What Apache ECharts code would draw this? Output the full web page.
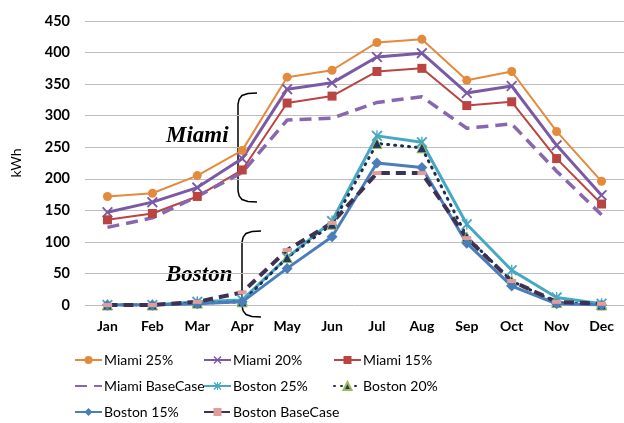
<!DOCTYPE html>
<html>
<head>
<meta charset="utf-8">
<script src="https://cdn.jsdelivr.net/npm/echarts@6/dist/echarts.min.js"></script>
<style>
html, body { margin: 0; padding: 0; background: #fff; }
#main { width: 624px; height: 423px; }
</style>
</head>
<body>
<div id="main"></div>
<script>
var months = ["Jan","Feb","Mar","Apr","May","Jun","Jul","Aug","Sep","Oct","Nov","Dec"];

var miami25 = [172, 177, 205, 245, 361, 372, 416, 421, 356, 370, 275, 196];
var miami20 = [147, 163, 186, 232, 342, 352, 393, 399, 336, 347, 253, 174];
var miami15 = [135, 145, 172, 214, 320, 331, 370, 375, 316, 322, 232, 160];
var miamiBase = [123, 138, 172, 210, 293, 296, 321, 330, 280, 287, 212, 143];
var boston25 = [0, 0, 5, 8, 75, 133, 268, 258, 128, 55, 12, 2];
var boston20 = [0, 0, 3, 5, 75, 128, 256, 249, 108, 38, 4, 0];
var boston15 = [0, 0, 2, 5, 58, 108, 225, 218, 98, 30, 2, 0];
var bostonBase = [0, 0, 5, 20, 87, 130, 209, 209, 106, 38, 5, 2];

var chart = echarts.init(document.getElementById("main"));

// X and asterisk markers
var xMark = 'path://M0,1.2 L1.2,0 L5,3.8 L8.8,0 L10,1.2 L6.2,5 L10,8.8 L8.8,10 L5,6.2 L1.2,10 L0,8.8 L3.8,5 Z';
var starMark = 'path://M0,1.2 L1.2,0 L4.4,3.2 L4.4,0 L5.6,0 L5.6,3.2 L8.8,0 L10,1.2 L6.2,5 L10,8.8 L8.8,10 L5.6,6.8 L5.6,10 L4.4,10 L4.4,6.8 L1.2,10 L0,8.8 L3.8,5 Z';

var legendPos = [
    ['Miami 25%', 74, 353], ['Miami 20%', 203, 353], ['Miami 15%', 333, 353],
    ['Miami BaseCase', 74, 379], ['Boston 25%', 203, 379], ['Boston 20%', 333, 379],
    ['Boston 15%', 74, 405], ['Boston BaseCase', 203, 405]
];
var legends = legendPos.map(function (p) {
    var item = { name: p[0] };
    if (p[0] == 'Miami BaseCase') item.itemStyle = { opacity: 0 };
    return {
        data: [item],
        left: p[1],
        top: p[2],
        padding: 0,
        itemWidth: 27,
        itemHeight: 10,
        itemGap: 0,
        textStyle: { fontFamily: 'Lato', fontSize: 14, color: '#000', padding: [0, 0, 0, -3] }
    };
});

// curly-ish bracket drawn as a polyline
function bracket(x, y, h) {
    var pts = [[x + 19, y], [x + 10, y + 0.6], [x + 4, y + 2.5], [x + 1.2, y + 6], [x, y + 11],
        [x, y + h - 11], [x + 1.2, y + h - 6], [x + 4, y + h - 2.5], [x + 10, y + h - 0.6], [x + 19, y + h]];
    return {
        type: 'polyline',
        shape: { points: pts },
        style: { stroke: '#000', lineWidth: 1.5, fill: null }
    };
}

var option = {
    animation: false,
    legend: legends,
    grid: { left: 85, right: -3, top: 21, bottom: 118, containLabel: false },
    xAxis: {
        type: 'category',
        data: months,
        axisLine: { show: false },
        axisTick: { show: false },
        axisLabel: { fontFamily: 'Lato', fontWeight: 'bold', fontSize: 14, color: '#000', margin: 14 }
    },
    yAxis: {
        type: 'value',
        min: 0,
        max: 450,
        interval: 50,
        name: 'kWh',
        nameLocation: 'middle',
        nameGap: 62,
        nameTextStyle: { fontFamily: 'Lato', fontSize: 14, color: '#000' },
        axisLabel: { fontFamily: 'Lato', fontWeight: 'bold', fontSize: 14.5, color: '#000', margin: 15 },
        splitLine: { lineStyle: { color: '#bdbdbd', width: 1 } }
    },
    series: [
        {
            name: 'Miami 25%', type: 'line', data: miami25,
            symbol: 'circle', symbolSize: 9,
            lineStyle: { color: '#E48A3C', width: 2 },
            itemStyle: { color: '#E48A3C' }
        },
        {
            name: 'Miami 20%', type: 'line', data: miami20,
            symbol: xMark, symbolSize: 11,
            lineStyle: { color: '#7A5AA5', width: 3 },
            itemStyle: { color: '#7A5AA5' }
        },
        {
            name: 'Miami 15%', type: 'line', data: miami15,
            symbol: 'rect', symbolSize: 9,
            lineStyle: { color: '#BA4441', width: 2 },
            itemStyle: { color: '#BA4441' }
        },
        {
            name: 'Miami BaseCase', type: 'line', data: miamiBase,
            symbol: 'none',
            lineStyle: { color: '#8767AE', width: 3.5, type: [12, 7] },
            itemStyle: { color: '#8767AE' }
        },
        {
            name: 'Boston 25%', type: 'line', data: boston25,
            symbol: starMark, symbolSize: 11,
            lineStyle: { color: '#46A8C2', width: 3 },
            itemStyle: { color: '#46A8C2' }
        },
        {
            name: 'Boston 20%', type: 'line', data: boston20,
            symbol: 'triangle', symbolSize: 10,
            lineStyle: { color: '#1C2F4E', width: 3, type: [1, 6], cap: 'round' },
            itemStyle: { color: '#1F3864', borderColor: '#9BBB59', borderWidth: 1 }
        },
        {
            name: 'Boston 15%', type: 'line', data: boston15,
            symbol: 'diamond', symbolSize: 11,
            lineStyle: { color: '#4A7EBB', width: 3 },
            itemStyle: { color: '#4A7EBB' }
        },
        {
            name: 'Boston BaseCase', type: 'line', data: bostonBase,
            symbol: 'rect', symbolSize: [9, 4],
            lineStyle: { color: '#3F3151', width: 4, type: [10, 6] },
            itemStyle: { color: '#E39C9C' }
        }
    ],
    graphic: [
        {
            type: 'text', left: 166, top: 125,
            style: { text: 'Miami', font: 'italic bold 23px "Liberation Serif"', fill: '#000' }
        },
        {
            type: 'text', left: 166, top: 264,
            style: { text: 'Boston', font: 'italic bold 23px "Liberation Serif"', fill: '#000' }
        },
        bracket(238, 93, 109),
        bracket(242, 231, 86)
    ]
};

chart.setOption(option);
</script>
</body>
</html>
